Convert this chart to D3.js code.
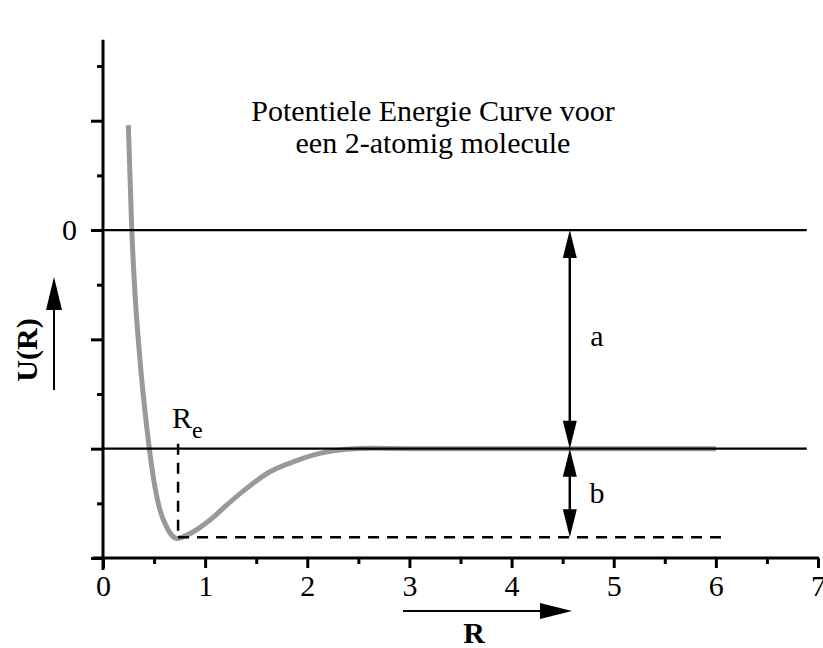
<!DOCTYPE html>
<html>
<head>
<meta charset="utf-8">
<script src="https://cdn.jsdelivr.net/npm/d3@7"></script>
<style>
  body { margin: 0; background: #fff; }
  svg { display: block; font-family: "Liberation Serif", "Times New Roman", serif; }
</style>
</head>
<body>
<svg id="chart" width="823" height="648"></svg>
<script>
// potential energy curve U(R)
const curveR = [0.248, 0.281, 0.313, 0.362, 0.428, 0.492, 0.558, 0.623, 0.688, 0.721, 0.884, 1.047, 1.21, 1.406, 1.634, 1.862, 2.123, 2.385, 2.645, 3.0, 6.0];
const curveU = [0.96, 0.016, -0.576, -1.189, -1.80, -2.257, -2.562, -2.715, -2.806, -2.821, -2.76, -2.653, -2.516, -2.363, -2.211, -2.12, -2.043, -2.006, -1.997, -2.0, -2.0];

const xMajor = [0, 1, 2, 3, 4, 5, 6, 7];
const xMinor = [0.5, 1.5, 2.5, 3.5, 4.5, 5.5, 6.5];
const yMajor = [1, 0, -1, -2, -3];
const yMinor = [1.5, 0.5, -0.5, -1.5, -2.5];
const yTickLabels = { "0": "0" };

const uZero = 0;
const uDiss = -2;      // dissociation level
const uMin = -2.81;    // well depth
const rEq = 0.735;     // R_e
const arrowR = 4.57;   // where a and b are drawn
const levelEnd = 6.89;
const dashEnd = 6.05;

const titleLines = ["Potentiele Energie Curve voor", "een 2-atomig molecule"];

const svg = d3.select("#chart");

const x = d3.scaleLinear().domain([0, 7]).range([103, 818]);
const y = d3.scaleLinear().domain([-3, 1]).range([558, 120.7]);

const font = 30;

// curve first, reference lines on top
const pts = curveR.map((r, i) => ({ r, u: curveU[i] }));
const line = d3.line()
  .x(d => x(d.r))
  .y(d => y(d.u))
  .curve(d3.curveMonotoneX);

svg.append("path")
  .datum(pts)
  .attr("fill", "none")
  .attr("stroke", "#999")
  .attr("stroke-width", 5)
  .attr("stroke-linejoin", "round")
  .attr("d", line);

// level lines
[uZero, uDiss].forEach(u => {
  svg.append("line")
    .attr("x1", x(0)).attr("x2", x(levelEnd))
    .attr("y1", y(u)).attr("y2", y(u))
    .attr("stroke", "#000").attr("stroke-width", 2.2);
});

// dashed lines for R_e and the minimum
svg.append("line")
  .attr("x1", x(rEq)).attr("x2", x(rEq))
  .attr("y1", y(uDiss) - 5).attr("y2", y(uMin))
  .attr("stroke", "#000").attr("stroke-width", 2.5)
  .attr("stroke-dasharray", "11,8");

svg.append("line")
  .attr("x1", x(rEq)).attr("x2", x(dashEnd))
  .attr("y1", y(uMin)).attr("y2", y(uMin))
  .attr("stroke", "#000").attr("stroke-width", 2.5)
  .attr("stroke-dasharray", "11,8");

// axes
svg.append("g")
  .attr("transform", `translate(0,${y(-3)})`)
  .call(d3.axisBottom(x).tickValues(xMajor).tickSize(10).tickPadding(7).tickFormat(d3.format("d")));
svg.append("g")
  .attr("transform", `translate(0,${y(-3)})`)
  .call(d3.axisBottom(x).tickValues(xMinor).tickSize(6).tickFormat(""));

svg.append("g")
  .attr("transform", `translate(${x(0)},0)`)
  .call(d3.axisLeft(y).tickValues(yMajor).tickSize(12).tickPadding(14)
    .tickFormat(d => yTickLabels[String(d)] || ""));
svg.append("g")
  .attr("transform", `translate(${x(0)},0)`)
  .call(d3.axisLeft(y).tickValues(yMinor).tickSize(6).tickFormat(""));

svg.selectAll(".domain").remove();
svg.selectAll(".tick line").attr("stroke", "#000").attr("stroke-width", 3);
svg.selectAll(".tick text").attr("font-size", font).attr("fill", "#000")
  .style("font-family", "'Liberation Serif', 'Times New Roman', serif");

// axis lines cross a little past each other
svg.append("line")
  .attr("x1", x(0) - 10).attr("x2", x(7) + 1)
  .attr("y1", y(-3)).attr("y2", y(-3))
  .attr("stroke", "#000").attr("stroke-width", 3);
svg.append("line")
  .attr("x1", x(0)).attr("x2", x(0))
  .attr("y1", y(-3) + 12).attr("y2", y(1.74))
  .attr("stroke", "#000").attr("stroke-width", 3);

// arrowhead helper: tip at (tx,ty), pointing in direction (dx,dy)
function head(tx, ty, dx, dy, len, half) {
  const p = d3.path();
  p.moveTo(tx, ty);
  p.lineTo(tx - dx * len - dy * half, ty - dy * len + dx * half);
  p.lineTo(tx - dx * len + dy * half, ty - dy * len - dx * half);
  p.closePath();
  svg.append("path").attr("d", p.toString()).attr("fill", "#000");
}

function vArrow(xp, y1, y2) {
  svg.append("line")
    .attr("x1", xp).attr("x2", xp).attr("y1", y1 + 10).attr("y2", y2 - 10)
    .attr("stroke", "#000").attr("stroke-width", 2.5);
  head(xp, y1, 0, -1, 28, 7);
  head(xp, y2, 0, 1, 28, 7);
}

const ax = x(arrowR);
vArrow(ax, y(uZero), y(uDiss));
vArrow(ax, y(uDiss), y(uMin));

svg.append("text").attr("x", 597).attr("y", (y(uZero) + y(uDiss)) / 2 + 7)
  .attr("text-anchor", "middle").attr("font-size", font).text("a");
svg.append("text").attr("x", 597).attr("y", (y(uDiss) + y(uMin)) / 2 + 10)
  .attr("text-anchor", "middle").attr("font-size", font).text("b");

// R_e label
const re = svg.append("text").attr("x", 172).attr("y", 428).attr("font-size", font);
re.append("tspan").text("R");
re.append("tspan").attr("font-size", 24).attr("dy", 10).text("e");

// title
svg.append("text")
  .attr("x", 433).attr("y", 121)
  .attr("text-anchor", "middle").attr("font-size", font)
  .selectAll("tspan")
  .data(titleLines)
  .join("tspan")
  .attr("x", 433)
  .attr("dy", (d, i) => i === 0 ? 0 : 32)
  .text(d => d);

// U(R) axis title with arrow
svg.append("text")
  .attr("transform", "translate(37,350) rotate(-90)")
  .attr("text-anchor", "middle").attr("font-size", font).attr("font-weight", "bold")
  .text("U(R)");
svg.append("line").attr("x1", 54).attr("x2", 54).attr("y1", 390).attr("y2", 300)
  .attr("stroke", "#000").attr("stroke-width", 2);
head(54, 277, 0, -1, 33, 8);

// R axis title with arrow
svg.append("text")
  .attr("x", 474).attr("y", 643)
  .attr("text-anchor", "middle").attr("font-size", font).attr("font-weight", "bold")
  .text("R");
svg.append("line").attr("x1", 403).attr("x2", 545).attr("y1", 611).attr("y2", 611)
  .attr("stroke", "#000").attr("stroke-width", 2);
head(572, 611, 1, 0, 32, 8);
</script>
</body>
</html>
